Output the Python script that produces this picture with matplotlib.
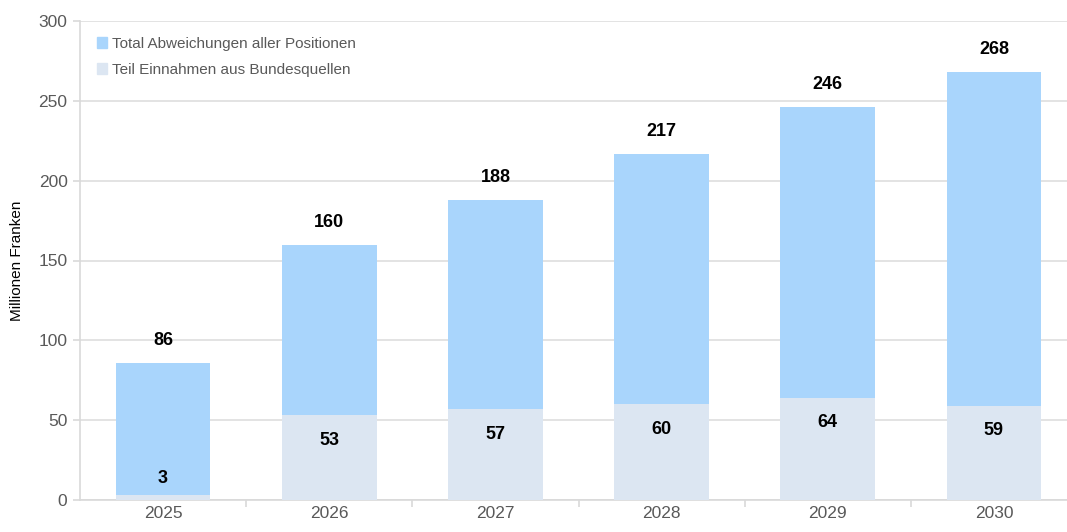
import numpy as np
import matplotlib
matplotlib.use('Agg')
import matplotlib.pyplot as plt
from matplotlib.patches import Patch

years = ['2025', '2026', '2027', '2028', '2029', '2030']
total = [86, 160, 188, 217, 246, 268]
bund = [3, 53, 57, 60, 64, 59]

plt.rcParams['font.family'] = ['Liberation Sans Narrow', 'Liberation Sans', 'DejaVu Sans']

c_total = '#a9d5fc'
c_bund = '#dce6f2'
grey = '#595959'

fig = plt.figure(figsize=(10.67, 5.32), dpi=100)
ax = fig.add_axes([80 / 1067, 32 / 532, 997 / 1067, 479 / 532])

x = np.arange(len(years))
w = 0.57
ax.bar(x, total, width=w, color=c_total, zorder=2)
ax.bar(x, bund, width=w, color=c_bund, zorder=3)

# value labels: totals above the bar, federal part inside near its top
for xi, t, b in zip(x, total, bund):
    ax.annotate(str(t), (xi, t), xytext=(0, 10), textcoords='offset points',
                ha='center', va='bottom', fontsize=13, fontweight='bold')
    if b < 20:
        ax.annotate(str(b), (xi, b), xytext=(0, 6), textcoords='offset points',
                    ha='center', va='bottom', fontsize=13, fontweight='bold')
    else:
        ax.annotate(str(b), (xi, b), xytext=(0, -12), textcoords='offset points',
                    ha='center', va='top', fontsize=13, fontweight='bold')

ax.set_xlim(-0.5, 5.5)
ax.set_ylim(0, 300)
ax.set_yticks(range(0, 301, 50))
ax.set_xticks(x)
ax.set_xticklabels(years)
ax.set_xticks(np.arange(0.5, 5.5, 1), minor=True)
ax.tick_params(axis='x', which='major', length=0, labelsize=12.5, labelcolor=grey, pad=4)
ax.tick_params(axis='x', which='minor', length=5, color='#d9d9d9', width=1.2)
ax.tick_params(axis='y', length=5, color='#d9d9d9', width=1.2, labelsize=12.5, labelcolor=grey, pad=4)
ax.grid(axis='y', color='#dedede', linewidth=1.2, zorder=0)
ax.set_axisbelow(True)
for s in ['top', 'right']:
    ax.spines[s].set_visible(False)
for s in ['left', 'bottom']:
    ax.spines[s].set_color('#d9d9d9')
    ax.spines[s].set_linewidth(1.2)

ax.set_ylabel('Millionen Franken', fontsize=11, color='black', labelpad=10)

handles = [Patch(color=c_total), Patch(color=c_bund)]
ax.legend(handles, ['Total Abweichungen aller Positionen', 'Teil Einnahmen aus Bundesquellen'],
          loc='upper left', bbox_to_anchor=(0.003, 0.995), frameon=False, fontsize=11,
          labelcolor=grey, handlelength=0.7, handleheight=0.7, handletextpad=0.3,
          labelspacing=0.75)

fig.savefig('out.png', dpi=100)
